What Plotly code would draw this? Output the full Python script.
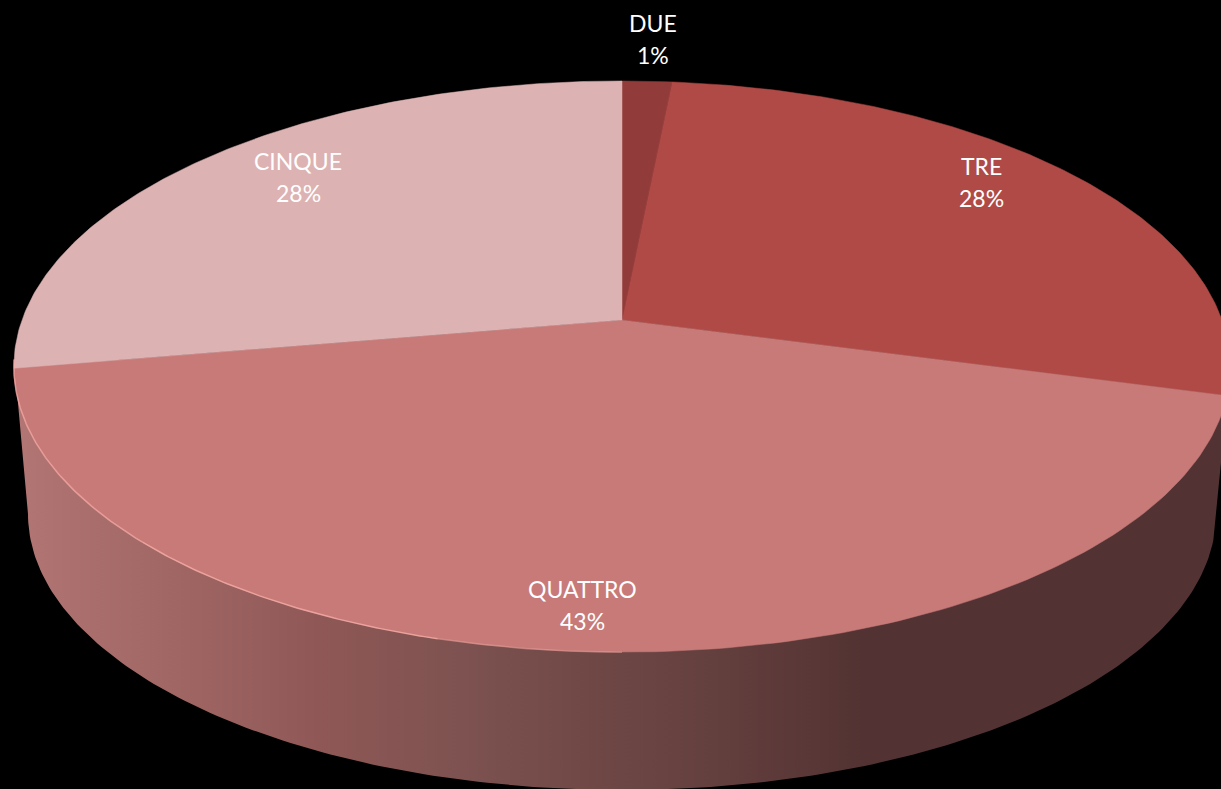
import numpy as np
import plotly.graph_objects as go

categories = ["DUE", "TRE", "QUATTRO", "CINQUE"]
shares = [1.55, 27.65, 43.1, 27.7]
percent_labels = ["1%", "28%", "43%", "28%"]
slice_colors = ["#913c3a", "#b04a46", "#c77a78", "#ddb2b2"]

# pixel geometry of the tilted disc, the figure is 1221x789
WIDTH, HEIGHT = 1221, 789
APEX_X, APEX_Y = 622, 320
RADIUS_X, RADIUS_Y = 600, 278
PERSPECTIVE = 0.163
BASE_Y, BASE_RX, BASE_RY = 514, 594, 276


def disc_point(theta):
    """ Projects an angle on the disc (clockwise from the top) to the page. """
    depth = 1 + PERSPECTIVE * np.cos(theta)
    return APEX_X + RADIUS_X * np.sin(theta) / depth, APEX_Y - RADIUS_Y * np.cos(theta) / depth


def add_side_wall(fig):
    left = disc_point(np.radians(262))
    right = disc_point(np.radians(100))
    t = np.linspace(0, np.pi, 200)
    xs = np.concatenate([[right[0]], APEX_X + BASE_RX * np.cos(t), [left[0]]])
    ys = np.concatenate([[right[1]], BASE_Y + BASE_RY * np.sin(t), [left[1]]])
    stops = [(0.0, "#b27674"), (0.25, "#8f5856"), (0.37, "#7d5250"), (0.5, "#6c4644"),
             (0.65, "#5a3837"), (0.7, "#523232"), (1.0, "#523232")]
    fig.add_trace(go.Scatter(x=xs, y=ys, mode="lines", line=dict(width=0), fill="toself",
                             fillgradient=dict(type="horizontal", colorscale=stops),
                             hoverinfo="skip", showlegend=False))


def add_slices(fig):
    start = 0.0
    for name, share, color in zip(categories, shares, slice_colors):
        end = start + share
        thetas = np.radians(np.linspace(start, end, 160) * 3.6)
        xs, ys = disc_point(thetas)
        fig.add_trace(go.Scatter(x=np.concatenate([[APEX_X], xs, [APEX_X]]),
                                 y=np.concatenate([[APEX_Y], ys, [APEX_Y]]),
                                 mode="lines", line=dict(width=0.5, color=color), fill="toself",
                                 fillcolor=color, name=name, hoverinfo="name", showlegend=False))
        start = end


def add_rim(fig):
    # soft highlight along the front left edge of the disc
    segments = [(262, 225, "rgba(245,170,165,0.75)"), (225, 195, "rgba(245,170,165,0.85)"),
                (195, 180, "rgba(245,170,165,0.45)")]
    for a, b, color in segments:
        xs, ys = disc_point(np.radians(np.linspace(a, b, 80)))
        fig.add_trace(go.Scatter(x=xs, y=ys, mode="lines", line=dict(width=1.5, color=color),
                                 hoverinfo="skip", showlegend=False))


fig = go.Figure()
add_side_wall(fig)
add_slices(fig)
add_rim(fig)

label_spots = [(653, 39), (981, 182), (582, 605), (298, 177)]
for name, percent, (lx, ly) in zip(categories, percent_labels, label_spots):
    for line, offset in ((name, -16), (percent, 16)):
        fig.add_annotation(x=lx, y=ly + offset, text=line, showarrow=False,
                           font=dict(family="Lato", size=23, color="white"))

fig.update_xaxes(range=[0, WIDTH], visible=False, fixedrange=True)
fig.update_yaxes(range=[HEIGHT, 0], visible=False, fixedrange=True)
fig.update_layout(width=WIDTH, height=HEIGHT, margin=dict(l=0, r=0, t=0, b=0),
                  paper_bgcolor="black", plot_bgcolor="black", showlegend=False)

# the page's default body margin would show as a white frame
fig.write_html("out.html", config=dict(displayModeBar=False),
               post_script="document.body.style.margin='0';document.body.style.overflow='hidden';"
                           "document.body.style.background='black';")
